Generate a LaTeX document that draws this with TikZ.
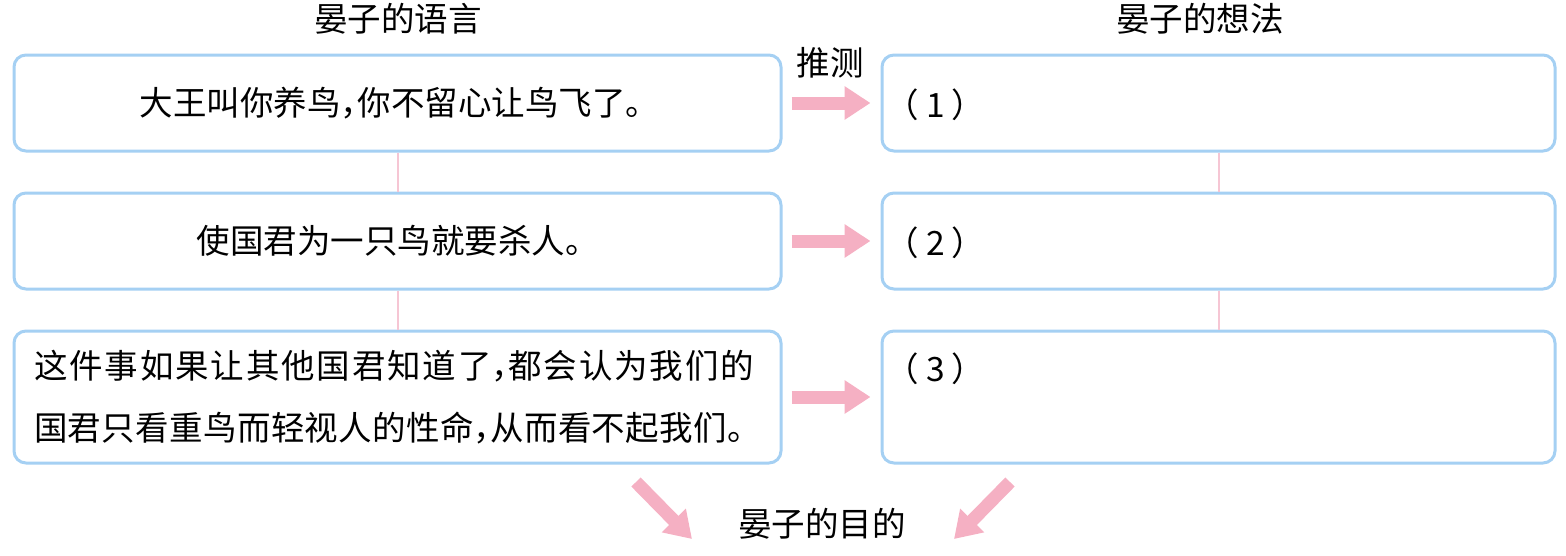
\documentclass[tikz,border=0pt]{standalone}
\usepackage{fontspec}
\setmainfont{Noto Sans CJK SC}
\usetikzlibrary{arrows.meta,calc}
\definecolor{boxblue}{RGB}{165,208,243}
\definecolor{linkpink}{RGB}{246,198,212}
\definecolor{arrpink}{RGB}{245,176,195}
\newcommand\hc{\makebox[0.5em][l]{，}}
\tikzset{
  txt/.style={font=\fontsize{33.5}{62}\selectfont, inner sep=0pt},
  box/.style={draw=boxblue, line width=3pt, rounded corners=12pt, inner sep=0pt, font=\fontsize{33.5}{62}\selectfont},
  link/.style={draw=linkpink, line width=2pt},
  parrow/.style={draw=arrpink, line width=13pt, -{Triangle[length=26pt,width=32pt]}}
}
\begin{document}
\begin{tikzpicture}[x=1pt,y=-1pt]
\useasboundingbox (0,0) rectangle (1566,555);
% headers
\node[txt] (hL) at (398,19) {晏子的语言};
\node[txt] (hR) at (1200,19) {晏子的想法};
\node[txt] (tc) at (830,63) {推测};
% left boxes
\node[box, minimum width=767pt, minimum height=96pt] (L1) at (397.5,103) {\hspace*{4pt}大王叫你养鸟\hc 你不留心让鸟飞了。};
\node[box, minimum width=767pt, minimum height=96pt] (L2) at (397.5,241) {使国君为一只鸟就要杀人。};
\node[box, minimum width=767pt, minimum height=132pt, align=left] (L3) at (397.5,397) {{\addfontfeatures{LetterSpace=5.5}这件事如果让其他国君知道了\hc 都会认为我们的}\\{\addfontfeatures{LetterSpace=1}国君只看重鸟而轻视人的性命\hc 从而看不起我们。}};
% right boxes
\node[box, minimum width=673pt, minimum height=96pt] (R1) at (1218.5,103) {};
\node[box, minimum width=673pt, minimum height=96pt] (R2) at (1218.5,241) {};
\node[box, minimum width=673pt, minimum height=132pt] (R3) at (1218.5,397) {};
\node[txt, anchor=west] (n1) at ($(R1.west)+(5,2)$) {（\hspace{7pt}1\hspace{7pt}）};
\node[txt, anchor=west] (n2) at ($(R2.west)+(5,2)$) {（\hspace{7pt}2\hspace{7pt}）};
\node[txt, anchor=west] (n3) at ($(R3.west)+(5,-28)$) {（\hspace{7pt}3\hspace{7pt}）};
% vertical links
\draw[link] (L1.south) -- (L2.north);
\draw[link] (L2.south) -- (L3.north);
\draw[link] (R1.south) -- (R2.north);
\draw[link] (R2.south) -- (R3.north);
% horizontal arrows
\draw[parrow, shorten <=9pt, shorten >=10pt] (L1) -- (R1);
\draw[parrow, shorten <=9pt, shorten >=10pt] (L2) -- (R2);
\draw[parrow, shorten <=9pt, shorten >=10pt] (L3) -- (R3);
% purpose
\node[txt] (md) at (822,524) {晏子的目的};
\coordinate (s1) at (636,482);
\coordinate (e1) at (692,539);
\coordinate (s2) at (1010,482);
\coordinate (e2) at (954,539);
\draw[parrow] (s1) -- (e1);
\draw[parrow] (s2) -- (e2);
\end{tikzpicture}
\end{document}
